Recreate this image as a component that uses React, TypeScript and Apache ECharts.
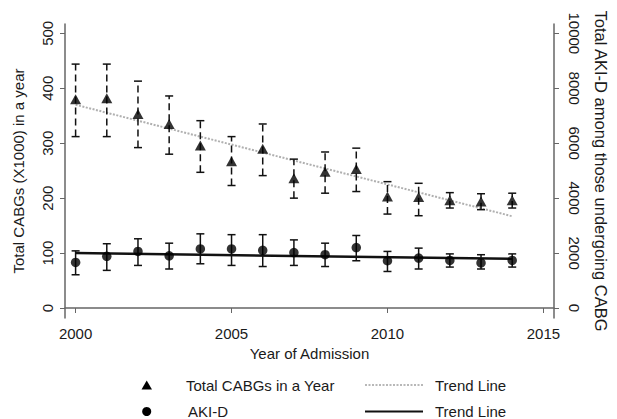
import React, { useEffect, useRef } from "react";
import * as echarts from "echarts";

const years = [2000, 2001, 2002, 2003, 2004, 2005, 2006, 2007, 2008, 2009, 2010, 2011, 2012, 2013, 2014];
// Total CABGs (x1000)
const cabgMean = [380, 382, 353, 335, 296, 267, 290, 236, 248, 253, 203, 202, 196, 194, 196];
const cabgLow = [312, 312, 292, 280, 247, 223, 241, 200, 209, 212, 171, 168, 182, 179, 182];
const cabgHigh = [444, 444, 413, 386, 341, 312, 335, 271, 284, 291, 230, 227, 210, 208, 209];
const cabgTrendYears = [2000, 2014];
const cabgTrend = [370, 167];
// Total AKI-D
const akiMean = [1660, 1880, 2060, 1900, 2150, 2150, 2100, 2020, 1940, 2200, 1720, 1820, 1730, 1640, 1730];
const akiLow = [1210, 1370, 1550, 1420, 1610, 1550, 1510, 1550, 1510, 1720, 1330, 1420, 1490, 1420, 1490];
const akiHigh = [2080, 2340, 2520, 2360, 2700, 2670, 2670, 2480, 2360, 2640, 2060, 2180, 1970, 1940, 1970];
const akiTrendYears = [2000, 2014];
const akiTrend = [2000, 1790];

const xTicks = [2000, 2005, 2010, 2015];
const leftTicks = [0, 100, 200, 300, 400, 500];
const rightTicks = [0, 2000, 4000, 6000, 8000, 10000];

const FONT = "Liberation Sans, Arial, Helvetica, sans-serif";
const TXT = "#1a1a1a";
const AX = "#666";
const plain = (v: number) => String(Math.round(v));

function errorBar(dashed: boolean) {
  return (params: any, api: any) => {
    const x = api.value(0);
    const lo = api.coord([x, api.value(1)]);
    const hi = api.coord([x, api.value(2)]);
    const cw = 4;
    const st = { stroke: "#111", lineWidth: 1.5 };
    return {
      type: "group",
      children: [
        {
          type: "line",
          shape: { x1: lo[0], y1: lo[1], x2: hi[0], y2: hi[1] },
          style: dashed ? { ...st, lineDash: [7, 4] } : st,
        },
        { type: "line", shape: { x1: lo[0] - cw, y1: lo[1], x2: lo[0] + cw, y2: lo[1] }, style: st },
        { type: "line", shape: { x1: hi[0] - cw, y1: hi[1], x2: hi[0] + cw, y2: hi[1] }, style: st },
      ],
    };
  };
}

export default function App() {
  const ref = useRef<HTMLDivElement>(null);
  useEffect(() => {
    if (!ref.current) return;
    const chart = echarts.init(ref.current, undefined, { renderer: "svg" });
    const option: any = {
      animation: false,
      backgroundColor: "#fff",
      textStyle: { fontFamily: FONT, color: TXT },
      grid: { left: 65, right: 47, top: 24, bottom: 101, containLabel: false },
      xAxis: {
        type: "value",
        min: 1999.66,
        max: 2015.34,
        name: "Year of Admission",
        nameLocation: "middle",
        nameGap: 27,
        nameTextStyle: { fontSize: 15, color: TXT, fontFamily: FONT },
        axisLine: { show: true, lineStyle: { color: AX, width: 1.5 } },
        axisTick: { show: true, length: 5, lineStyle: { color: AX }, customValues: xTicks },
        axisLabel: { fontSize: 15, color: TXT, margin: 8, customValues: xTicks, fontFamily: FONT, formatter: plain },
        splitLine: { show: false },
      },
      yAxis: [
        {
          type: "value",
          min: -18.2,
          max: 517,
          position: "left",
          name: "Total CABGs (X1000) in a year",
          nameLocation: "middle",
          nameGap: 39,
          nameRotate: 90,
          nameTextStyle: { fontSize: 15, color: TXT, fontFamily: FONT },
          axisLine: { show: true, lineStyle: { color: AX, width: 1.5 } },
          axisTick: { show: true, length: 5, lineStyle: { color: AX }, customValues: leftTicks },
          axisLabel: { fontSize: 15, color: TXT, rotate: 90, margin: 10, customValues: leftTicks, fontFamily: FONT, formatter: plain },
          splitLine: { show: false },
        },
        {
          type: "value",
          min: -364,
          max: 10340,
          position: "right",
          name: "Total AKI-D among those undergoing CABG",
          nameLocation: "middle",
          nameGap: 38,
          nameRotate: -90,
          nameTextStyle: { fontSize: 16.5, color: TXT, fontFamily: FONT },
          axisLine: { show: true, lineStyle: { color: AX, width: 1.5 } },
          axisTick: { show: true, length: 5, lineStyle: { color: AX }, customValues: rightTicks },
          axisLabel: { fontSize: 15, color: TXT, rotate: -90, margin: 13, customValues: rightTicks, fontFamily: FONT, formatter: plain },
          splitLine: { show: false },
        },
      ],
      series: [
        {
          type: "line",
          name: "cabgTrend",
          yAxisIndex: 0,
          data: cabgTrendYears.map((y, i) => [y, cabgTrend[i]]),
          symbol: "none",
          lineStyle: { color: "#b0b0b0", width: 2, type: [2, 1.5] },
          z: 1,
        },
        {
          type: "line",
          name: "akiTrend",
          yAxisIndex: 1,
          data: akiTrendYears.map((y, i) => [y, akiTrend[i]]),
          symbol: "none",
          lineStyle: { color: "#111", width: 2.5 },
          z: 1,
        },
        {
          type: "custom",
          name: "cabgErr",
          yAxisIndex: 0,
          renderItem: errorBar(true),
          data: years.map((y, i) => [y, cabgLow[i], cabgHigh[i]]),
          z: 2,
        },
        {
          type: "custom",
          name: "akiErr",
          yAxisIndex: 1,
          renderItem: errorBar(false),
          data: years.map((y, i) => [y, akiLow[i], akiHigh[i]]),
          z: 2,
        },
        {
          type: "scatter",
          name: "Total CABGs in a Year",
          yAxisIndex: 0,
          symbol: "triangle",
          symbolSize: [11, 10],
          itemStyle: { color: "#000" },
          data: years.map((y, i) => [y, cabgMean[i]]),
          z: 3,
        },
        {
          type: "scatter",
          name: "AKI-D",
          yAxisIndex: 1,
          symbol: "circle",
          symbolSize: 9.5,
          itemStyle: { color: "#000" },
          data: years.map((y, i) => [y, akiMean[i]]),
          z: 3,
        },
      ],
      graphic: [
        { type: "polygon", shape: { points: [[141.5, 389.5], [152, 389.5], [146.7, 380.5]] }, style: { fill: "#000" } },
        { type: "text", x: 186, y: 385, style: { text: "Total CABGs in a Year", fontSize: 15, fontFamily: FONT, fill: TXT, verticalAlign: "middle" } },
        { type: "line", shape: { x1: 365, y1: 385, x2: 423, y2: 385 }, style: { stroke: "#b8b8b8", lineWidth: 2, lineDash: [2, 1.5] } },
        { type: "text", x: 435, y: 385, style: { text: "Trend Line", fontSize: 15, fontFamily: FONT, fill: TXT, verticalAlign: "middle" } },
        { type: "circle", shape: { cx: 146.7, cy: 411.5, r: 4.5 }, style: { fill: "#000" } },
        { type: "text", x: 188, y: 411.5, style: { text: "AKI-D", fontSize: 15, fontFamily: FONT, fill: TXT, verticalAlign: "middle" } },
        { type: "line", shape: { x1: 365, y1: 411.5, x2: 423, y2: 411.5 }, style: { stroke: "#111", lineWidth: 2 } },
        { type: "text", x: 435, y: 411.5, style: { text: "Trend Line", fontSize: 15, fontFamily: FONT, fill: TXT, verticalAlign: "middle" } },
      ],
    };
    chart.setOption(option);
    return () => chart.dispose();
  }, []);
  return <div ref={ref} style={{ position: "fixed", left: 0, top: 0, width: 617, height: 419 }} />;
}
